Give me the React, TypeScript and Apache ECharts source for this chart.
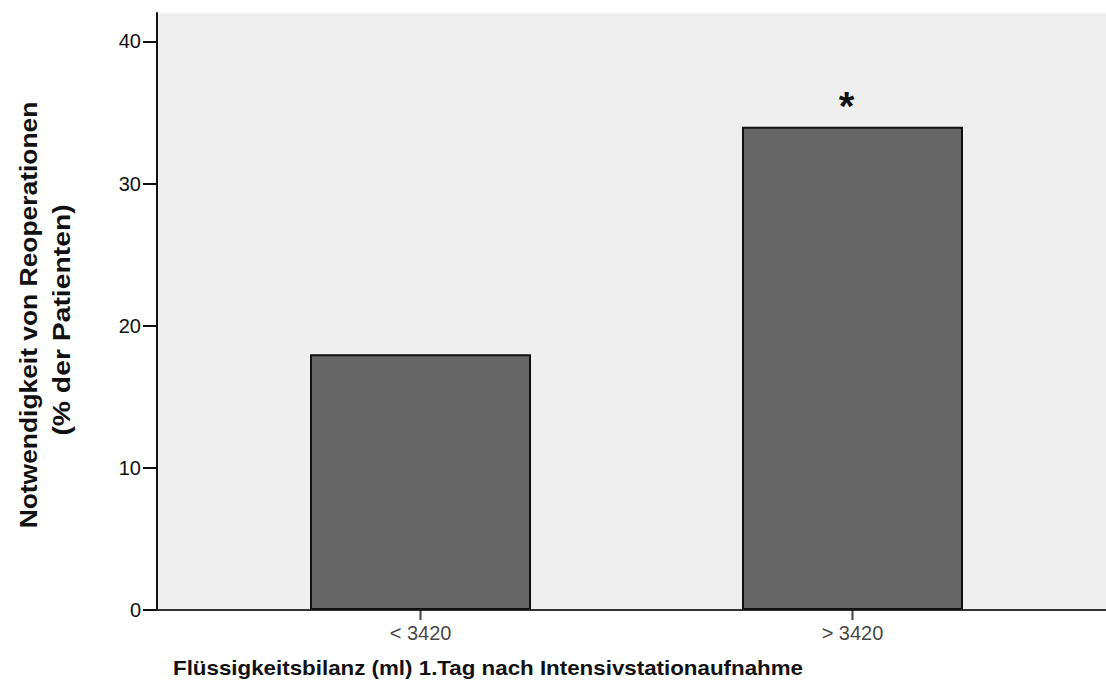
import React, { useEffect, useRef } from "react";
import * as echarts from "echarts";

const categories = ["< 3420", "> 3420"];
const positions = [1, 2];
const reoperationPct = [18, 34];
const significance = ["", "*"];
const yTicks = [0, 10, 20, 30, 40];

export default function App() {
  const ref = useRef<HTMLDivElement>(null);

  useEffect(() => {
    if (!ref.current) return;
    const chart = echarts.init(ref.current, undefined, { renderer: "svg" });
    const font = "'Liberation Sans', Arial, sans-serif";
    chart.setOption({
      animation: false,
      grid: {
        left: 157,
        right: 0,
        top: 13,
        bottom: 79,
        show: true,
        backgroundColor: "#efefef",
        borderWidth: 0,
      },
      xAxis: [
        {
          type: "value",
          min: 0.39,
          max: 2.61,
          splitLine: { show: false },
          axisLine: { show: true, onZero: false, lineStyle: { color: "#222", width: 2 } },
          axisTick: { show: false },
          axisLabel: { show: false },
        },
        {
          type: "value",
          position: "top",
          min: 0.39,
          max: 2.61,
          splitLine: { show: false },
          axisLine: { show: true, lineStyle: { color: "#333", width: 2 } },
          axisTick: { show: false },
          axisLabel: { show: false },
        },
      ],
      yAxis: {
        type: "value",
        min: 0,
        max: 42,
        splitLine: { show: false },
        axisLine: { show: true, lineStyle: { color: "#111", width: 2 } },
        axisTick: {
          show: true,
          length: 14,
          customValues: yTicks,
          lineStyle: { color: "#111", width: 2 },
        },
        axisLabel: {
          color: "#111",
          fontFamily: font,
          fontSize: 20,
          margin: 16,
          customValues: yTicks,
        },
      },
      series: [
        {
          type: "bar",
          barWidth: 221,
          data: positions.map((p, i) => [p, reoperationPct[i]]),
          itemStyle: { color: "#666666", borderColor: "#111", borderWidth: 2 },
          label: {
            show: true,
            position: "top",
            distance: 1,
            offset: [-6, 0],
            formatter: (p: any) => significance[p.dataIndex],
            fontFamily: font,
            fontWeight: "bold",
            fontSize: 40,
            lineHeight: 40,
            color: "#111",
          },
        },
        {
          // category ticks and labels beneath the axis
          type: "scatter",
          symbol: "rect",
          symbolSize: [2, 10],
          symbolOffset: [0, 5],
          data: positions.map((p) => [p, 0]),
          itemStyle: { color: "#111" },
          label: {
            show: true,
            position: "bottom",
            distance: 3,
            formatter: (p: any) => categories[p.dataIndex],
            fontFamily: font,
            fontSize: 20,
            color: "#111",
          },
          silent: true,
          clip: false,
        },
      ],
      graphic: [
        {
          type: "text",
          x: 488,
          y: 668,
          scaleX: 1.064,
          style: {
            text: "Flüssigkeitsbilanz (ml) 1.Tag nach Intensivstationaufnahme",
            font: `bold 21px ${font}`,
            fill: "#111",
            align: "center",
            verticalAlign: "middle",
          },
        },
        {
          type: "text",
          x: 28,
          y: 315,
          rotation: Math.PI / 2,
          scaleX: 1.1,
          style: {
            text: "Notwendigkeit von Reoperationen",
            font: `bold 24px ${font}`,
            fill: "#111",
            align: "center",
            verticalAlign: "middle",
          },
        },
        {
          type: "text",
          x: 62,
          y: 320,
          rotation: Math.PI / 2,
          scaleX: 1.18,
          style: {
            text: "(% der Patienten)",
            font: `bold 24px ${font}`,
            fill: "#111",
            align: "center",
            verticalAlign: "middle",
          },
        },
      ],
    });
    return () => chart.dispose();
  }, []);

  return (
    <div style={{ position: "absolute", left: 0, top: 0, width: 1106, height: 689, overflow: "hidden" }}>
      <div ref={ref} style={{ width: 1116, height: 689 }} />
    </div>
  );
}
